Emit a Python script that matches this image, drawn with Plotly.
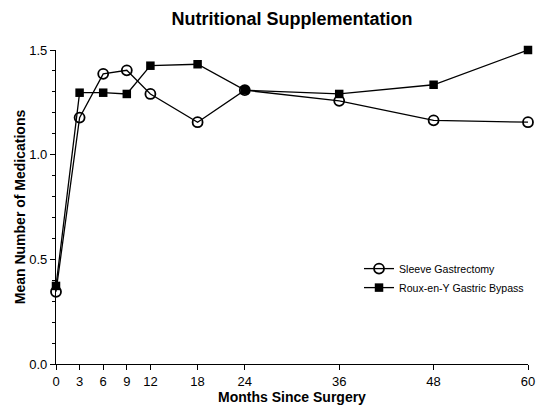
import plotly.graph_objects as go

months = [0, 3, 6, 9, 12, 18, 24, 36, 48, 60]
sleeve = [0.345, 1.177, 1.386, 1.403, 1.290, 1.155, 1.308, 1.257, 1.164, 1.155]
rygb = [0.373, 1.296, 1.296, 1.290, 1.425, 1.432, 1.308, 1.290, 1.334, 1.500]
tick_vals = [0, 3, 6, 9, 12, 18, 24, 36, 48, 60]
tick_text = ["0", "3", "6", "9", "12", "18", "24", "36", "48", "60"]

FONT = "Liberation Sans, Arial, sans-serif"

fig = go.Figure()
fig.add_trace(go.Scatter(
    x=months, y=sleeve, mode="lines+markers", name="Sleeve Gastrectomy",
    line=dict(color="black", width=1.3),
    marker=dict(symbol="circle-open", size=10, color="black", line=dict(width=1.8)),
    cliponaxis=False,
))
fig.add_trace(go.Scatter(
    x=months, y=rygb, mode="lines+markers", name="Roux-en-Y Gastric Bypass",
    line=dict(color="black", width=1.3),
    marker=dict(symbol="square", size=8.5, color="black"),
    cliponaxis=False,
))

fig.update_layout(
    width=537, height=406,
    paper_bgcolor="white", plot_bgcolor="white",
    margin=dict(l=56, r=9, t=50, b=42, autoexpand=False),
    font=dict(family=FONT, color="black", size=13),
    title=dict(text="<b>Nutritional Supplementation</b>", x=292 / 537, xanchor="center",
               y=1 - 19 / 406, yanchor="middle", font=dict(size=18, family=FONT, color="black")),
    showlegend=True,
    legend=dict(x=0.642, y=0.350, xanchor="left", yanchor="top",
                font=dict(size=10.6, family=FONT, color="black"),
                bgcolor="rgba(0,0,0,0)", tracegroupgap=0, itemwidth=30),
)
fig.update_xaxes(
    range=[0, 60], tickvals=tick_vals, ticktext=tick_text, automargin=False,
    ticklabeloverflow="allow",
    showgrid=False, zeroline=False, showline=True, linecolor="black", linewidth=1.3,
    ticks="outside", ticklen=5, tickwidth=1.3, tickcolor="black",
    tickfont=dict(size=13, family=FONT),
    title=dict(text="<b>Months Since Surgery</b>", font=dict(size=14, family=FONT), standoff=2),
)
fig.update_yaxes(
    range=[0, 1.5], tickvals=[0, 0.5, 1.0, 1.5], ticktext=["0.0", "0.5", "1.0", "1.5"],
    automargin=False,
    showgrid=False, zeroline=False, showline=True, linecolor="black", linewidth=1.3,
    ticks="outside", ticklen=5, tickwidth=1.3, tickcolor="black",
    tickfont=dict(size=13, family=FONT),
    minor=dict(ticks="outside", ticklen=3, tickwidth=1.1, tickcolor="black", dtick=0.1, tick0=0, showgrid=False),
    title=dict(text="<b>Mean Number of Medications</b>", font=dict(size=14, family=FONT), standoff=0),
)

fig.write_html("out.html", config={"displayModeBar": False},
               post_script="document.body.style.margin='0px';")
